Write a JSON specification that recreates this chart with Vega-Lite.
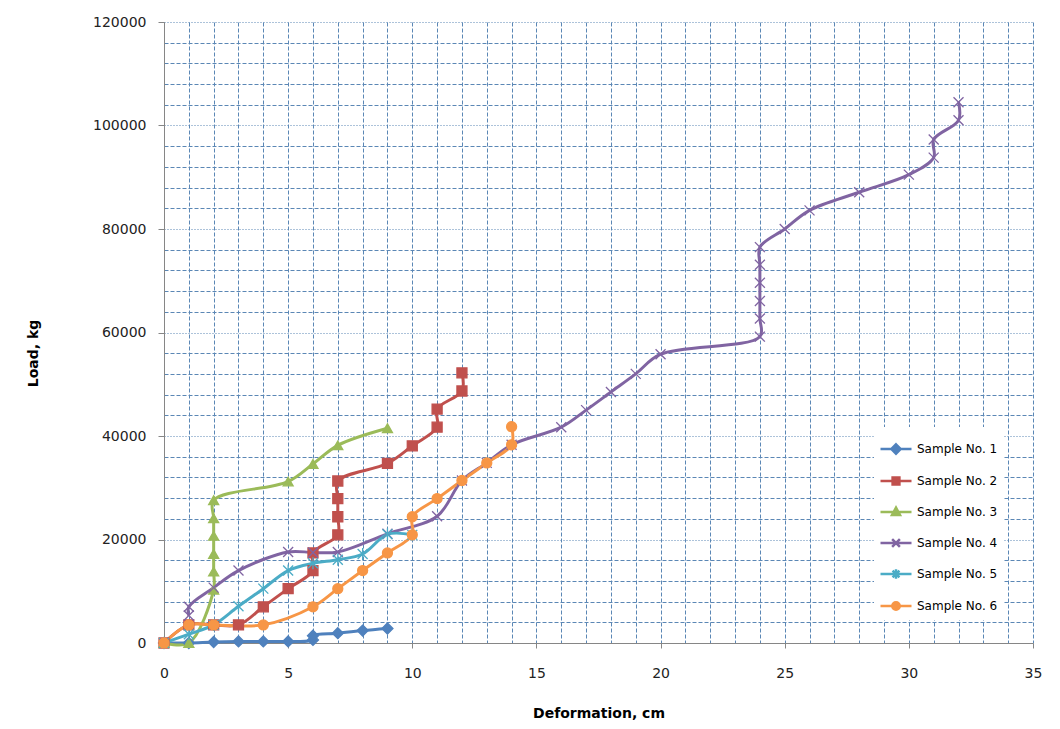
{
  "$schema": "https://vega.github.io/schema/vega-lite/v6.json",
  "width": 869,
  "height": 621,
  "autosize": {"type": "none"},
  "padding": {"left": 164, "top": 22, "right": 27, "bottom": 86},
  "background": "white",
  "config": {"view": {"stroke": null}},
  "data": {"values": [
    {"Sample": "Sample No. 1", "seq": 0, "def": 0, "load": 0},
    {"Sample": "Sample No. 1", "seq": 1, "def": 1, "load": 0},
    {"Sample": "Sample No. 1", "seq": 2, "def": 2, "load": 200},
    {"Sample": "Sample No. 1", "seq": 3, "def": 3, "load": 300},
    {"Sample": "Sample No. 1", "seq": 4, "def": 4, "load": 300},
    {"Sample": "Sample No. 1", "seq": 5, "def": 5, "load": 300},
    {"Sample": "Sample No. 1", "seq": 6, "def": 6, "load": 600},
    {"Sample": "Sample No. 1", "seq": 7, "def": 6, "load": 1400},
    {"Sample": "Sample No. 1", "seq": 8, "def": 7, "load": 1900},
    {"Sample": "Sample No. 1", "seq": 9, "def": 8, "load": 2400},
    {"Sample": "Sample No. 1", "seq": 10, "def": 9, "load": 2800},

    {"Sample": "Sample No. 2", "seq": 0, "def": 0, "load": 0},
    {"Sample": "Sample No. 2", "seq": 1, "def": 1, "load": 3500},
    {"Sample": "Sample No. 2", "seq": 2, "def": 2, "load": 3500},
    {"Sample": "Sample No. 2", "seq": 3, "def": 3, "load": 3500},
    {"Sample": "Sample No. 2", "seq": 4, "def": 4, "load": 7000},
    {"Sample": "Sample No. 2", "seq": 5, "def": 5, "load": 10500},
    {"Sample": "Sample No. 2", "seq": 6, "def": 6, "load": 14000},
    {"Sample": "Sample No. 2", "seq": 7, "def": 6, "load": 17400},
    {"Sample": "Sample No. 2", "seq": 8, "def": 7, "load": 20900},
    {"Sample": "Sample No. 2", "seq": 9, "def": 7, "load": 24400},
    {"Sample": "Sample No. 2", "seq": 10, "def": 7, "load": 27900},
    {"Sample": "Sample No. 2", "seq": 11, "def": 7, "load": 31300},
    {"Sample": "Sample No. 2", "seq": 12, "def": 9, "load": 34700},
    {"Sample": "Sample No. 2", "seq": 13, "def": 10, "load": 38100},
    {"Sample": "Sample No. 2", "seq": 14, "def": 11, "load": 41700},
    {"Sample": "Sample No. 2", "seq": 15, "def": 11, "load": 45200},
    {"Sample": "Sample No. 2", "seq": 16, "def": 12, "load": 48700},
    {"Sample": "Sample No. 2", "seq": 17, "def": 12, "load": 52200},

    {"Sample": "Sample No. 3", "seq": 0, "def": 0, "load": 0},
    {"Sample": "Sample No. 3", "seq": 1, "def": 1, "load": 0},
    {"Sample": "Sample No. 3", "seq": 2, "def": 2, "load": 10300},
    {"Sample": "Sample No. 3", "seq": 3, "def": 2, "load": 13800},
    {"Sample": "Sample No. 3", "seq": 4, "def": 2, "load": 17200},
    {"Sample": "Sample No. 3", "seq": 5, "def": 2, "load": 20700},
    {"Sample": "Sample No. 3", "seq": 6, "def": 2, "load": 24100},
    {"Sample": "Sample No. 3", "seq": 7, "def": 2, "load": 27600},
    {"Sample": "Sample No. 3", "seq": 8, "def": 5, "load": 31200},
    {"Sample": "Sample No. 3", "seq": 9, "def": 6, "load": 34600},
    {"Sample": "Sample No. 3", "seq": 10, "def": 7, "load": 38200},
    {"Sample": "Sample No. 3", "seq": 11, "def": 9, "load": 41500},

    {"Sample": "Sample No. 4", "seq": 0, "def": 1, "load": 5300},
    {"Sample": "Sample No. 4", "seq": 1, "def": 1, "load": 7000},
    {"Sample": "Sample No. 4", "seq": 2, "def": 2, "load": 10700},
    {"Sample": "Sample No. 4", "seq": 3, "def": 3, "load": 14000},
    {"Sample": "Sample No. 4", "seq": 4, "def": 5, "load": 17600},
    {"Sample": "Sample No. 4", "seq": 5, "def": 6, "load": 17500},
    {"Sample": "Sample No. 4", "seq": 6, "def": 7, "load": 17600},
    {"Sample": "Sample No. 4", "seq": 7, "def": 9, "load": 21100},
    {"Sample": "Sample No. 4", "seq": 8, "def": 11, "load": 24500},
    {"Sample": "Sample No. 4", "seq": 9, "def": 12, "load": 31400},
    {"Sample": "Sample No. 4", "seq": 10, "def": 13, "load": 34800},
    {"Sample": "Sample No. 4", "seq": 11, "def": 14, "load": 38300},
    {"Sample": "Sample No. 4", "seq": 12, "def": 16, "load": 41700},
    {"Sample": "Sample No. 4", "seq": 13, "def": 17, "load": 45000},
    {"Sample": "Sample No. 4", "seq": 14, "def": 18, "load": 48500},
    {"Sample": "Sample No. 4", "seq": 15, "def": 19, "load": 52000},
    {"Sample": "Sample No. 4", "seq": 16, "def": 20, "load": 55800},
    {"Sample": "Sample No. 4", "seq": 17, "def": 24, "load": 59200},
    {"Sample": "Sample No. 4", "seq": 18, "def": 24, "load": 62700},
    {"Sample": "Sample No. 4", "seq": 19, "def": 24, "load": 66100},
    {"Sample": "Sample No. 4", "seq": 20, "def": 24, "load": 69600},
    {"Sample": "Sample No. 4", "seq": 21, "def": 24, "load": 73100},
    {"Sample": "Sample No. 4", "seq": 22, "def": 24, "load": 76500},
    {"Sample": "Sample No. 4", "seq": 23, "def": 25, "load": 80000},
    {"Sample": "Sample No. 4", "seq": 24, "def": 26, "load": 83600},
    {"Sample": "Sample No. 4", "seq": 25, "def": 28, "load": 87100},
    {"Sample": "Sample No. 4", "seq": 26, "def": 30, "load": 90500},
    {"Sample": "Sample No. 4", "seq": 27, "def": 31, "load": 93800},
    {"Sample": "Sample No. 4", "seq": 28, "def": 31, "load": 97300},
    {"Sample": "Sample No. 4", "seq": 29, "def": 32, "load": 101000},
    {"Sample": "Sample No. 4", "seq": 30, "def": 32, "load": 104500},

    {"Sample": "Sample No. 5", "seq": 0, "def": 0, "load": 0},
    {"Sample": "Sample No. 5", "seq": 1, "def": 1, "load": 1700},
    {"Sample": "Sample No. 5", "seq": 2, "def": 2, "load": 3500},
    {"Sample": "Sample No. 5", "seq": 3, "def": 3, "load": 7100},
    {"Sample": "Sample No. 5", "seq": 4, "def": 4, "load": 10500},
    {"Sample": "Sample No. 5", "seq": 5, "def": 5, "load": 14000},
    {"Sample": "Sample No. 5", "seq": 6, "def": 6, "load": 15400},
    {"Sample": "Sample No. 5", "seq": 7, "def": 7, "load": 16100},
    {"Sample": "Sample No. 5", "seq": 8, "def": 8, "load": 17200},
    {"Sample": "Sample No. 5", "seq": 9, "def": 9, "load": 21000},
    {"Sample": "Sample No. 5", "seq": 10, "def": 10, "load": 20900},

    {"Sample": "Sample No. 6", "seq": 0, "def": 0, "load": 0},
    {"Sample": "Sample No. 6", "seq": 1, "def": 1, "load": 3500},
    {"Sample": "Sample No. 6", "seq": 2, "def": 2, "load": 3500},
    {"Sample": "Sample No. 6", "seq": 3, "def": 4, "load": 3500},
    {"Sample": "Sample No. 6", "seq": 4, "def": 6, "load": 7000},
    {"Sample": "Sample No. 6", "seq": 5, "def": 7, "load": 10500},
    {"Sample": "Sample No. 6", "seq": 6, "def": 8, "load": 14000},
    {"Sample": "Sample No. 6", "seq": 7, "def": 9, "load": 17400},
    {"Sample": "Sample No. 6", "seq": 8, "def": 10, "load": 20900},
    {"Sample": "Sample No. 6", "seq": 9, "def": 10, "load": 24400},
    {"Sample": "Sample No. 6", "seq": 10, "def": 11, "load": 27900},
    {"Sample": "Sample No. 6", "seq": 11, "def": 12, "load": 31400},
    {"Sample": "Sample No. 6", "seq": 12, "def": 13, "load": 34800},
    {"Sample": "Sample No. 6", "seq": 13, "def": 14, "load": 38300},
    {"Sample": "Sample No. 6", "seq": 14, "def": 14, "load": 41800}
  ]},
  "encoding": {
    "x": {
      "field": "def", "type": "quantitative",
      "scale": {"domain": [0, 35], "nice": false, "zero": true},
      "axis": {
        "values": [0,1,2,3,4,5,6,7,8,9,10,11,12,13,14,15,16,17,18,19,20,21,22,23,24,25,26,27,28,29,30,31,32,33,34,35],
        "labelExpr": "datum.value % 5 === 0 ? datum.label : ''",
        "labelOverlap": false,
        "labelFlush": false,
        "tickSize": 5,
        "tickColor": "#868686",
        "tickOpacity": {"condition": {"test": "datum.value % 5 === 0", "value": 1}, "value": 0},
        "domainColor": "#868686",
        "grid": true,
        "gridColor": "#5b87b5",
        "gridDash": [4, 2],
        "gridWidth": 1,
        "labelFont": "DejaVu Sans",
        "labelFontSize": 14,
        "labelColor": "#222222",
        "labelPadding": 18,
        "title": "Deformation, cm",
        "titleFont": "DejaVu Sans",
        "titleFontSize": 14,
        "titleFontWeight": "bold",
        "titleColor": "#000000",
        "titleY": 70,
        "titleBaseline": "middle"
      }
    },
    "y": {
      "field": "load", "type": "quantitative",
      "scale": {"domain": [0, 120000], "nice": false},
      "axis": {
        "values": [0,4000,8000,12000,16000,20000,24000,28000,32000,36000,40000,44000,48000,52000,56000,60000,64000,68000,72000,76000,80000,84000,88000,92000,96000,100000,104000,108000,112000,116000,120000],
        "format": "d",
        "labelExpr": "datum.value % 20000 === 0 ? datum.label : ''",
        "labelOverlap": false,
        "labelFlush": false,
        "tickSize": 6,
        "tickColor": "#868686",
        "tickOpacity": {"condition": {"test": "datum.value % 20000 === 0", "value": 1}, "value": 0},
        "domainColor": "#868686",
        "grid": true,
        "gridColor": "#5b87b5",
        "gridDash": {"condition": {"test": "datum.value % 20000 === 0 && datum.value > 0", "value": [1, 2]}, "value": [4, 2]},
        "gridWidth": 1,
        "labelFont": "DejaVu Sans",
        "labelFontSize": 14,
        "labelColor": "#222222",
        "labelPadding": 12,
        "title": "Load, kg",
        "titleFont": "DejaVu Sans",
        "titleFontSize": 14,
        "titleFontWeight": "bold",
        "titleColor": "#000000",
        "titleX": -131,
        "titleY": 331,
        "titleAngle": 270,
        "titleAlign": "center",
        "titleBaseline": "middle"
      }
    },
    "color": {
      "field": "Sample", "type": "nominal",
      "scale": {"domain": ["Sample No. 1","Sample No. 2","Sample No. 3","Sample No. 4","Sample No. 5","Sample No. 6"],
                "range": ["#4F81BD","#C0504D","#9BBB59","#8064A2","#4BACC6","#F79646"]},
      "legend": {
        "title": null,
        "orient": "none",
        "legendX": 710,
        "legendY": 405,
        "fillColor": "white",
        "padding": 5,
        "rowPadding": 5,
        "symbolSize": 961,
        "symbolStrokeWidth": 2.5,
        "labelFont": "DejaVu Sans",
        "labelFontSize": 12,
        "labelColor": "#000000",
        "labelOffset": 4,
        "encode": {
          "symbols": {
            "update": {
              "shape": {"signal": "datum.value === 'Sample No. 1' ? 'M-1,0L1,0M0,-0.3L0.3,0L0,0.3L-0.3,0Z' : datum.value === 'Sample No. 2' ? 'M-1,0L1,0M-0.22,-0.22L0.22,-0.22L0.22,0.22L-0.22,0.22Z' : datum.value === 'Sample No. 3' ? 'M-1,0L1,0M0,-0.28L0.26,0.2L-0.26,0.2Z' : datum.value === 'Sample No. 4' ? 'M-1,0L1,0M-0.25,-0.25L0.25,0.25M-0.25,0.25L0.25,-0.25' : datum.value === 'Sample No. 5' ? 'M-1,0L1,0M-0.22,-0.22L0.22,0.22M-0.22,0.22L0.22,-0.22M0,-0.3L0,0.3' : 'M-1,0L1,0M0.24,0A0.24,0.24 0 1,1 -0.24,0A0.24,0.24 0 1,1 0.24,0Z'"},
              "size": {"value": 961},
              "fill": {"signal": "scale('color', datum.value)"},
              "stroke": {"signal": "scale('color', datum.value)"},
              "strokeWidth": {"value": 2.5},
              "opacity": {"value": 1}
            }
          }
        }
      }
    }
  },
  "layer": [
    {
      "mark": {"type": "line", "strokeWidth": 3, "interpolate": "catmull-rom"},
      "encoding": {
        "order": {"field": "seq", "type": "quantitative"}
      }
    },
    {
      "mark": {"type": "point", "filled": true, "size": 100, "strokeWidth": 1.3, "opacity": 1},
      "encoding": {
        "stroke": {
          "field": "Sample", "type": "nominal",
          "scale": {"domain": ["Sample No. 1","Sample No. 2","Sample No. 3","Sample No. 4","Sample No. 5","Sample No. 6"],
                    "range": ["#4F81BD","#C0504D","#9BBB59","#8064A2","#4BACC6","#F79646"]},
          "legend": null
        },
        "shape": {
          "condition": [
            {"test": "datum.Sample === 'Sample No. 1'", "value": "M0,-1.1L1.1,0L0,1.1L-1.1,0Z"},
            {"test": "datum.Sample === 'Sample No. 2'", "value": "square"},
            {"test": "datum.Sample === 'Sample No. 3'", "value": "triangle-up"},
            {"test": "datum.Sample === 'Sample No. 4'", "value": "M-1,-1L1,1M-1,1L1,-1"},
            {"test": "datum.Sample === 'Sample No. 5'", "value": "M-1,-1L1,1M-1,1L1,-1M0,-1.2L0,1.2"}
          ],
          "value": "circle"
        }
      }
    }
  ]
}
